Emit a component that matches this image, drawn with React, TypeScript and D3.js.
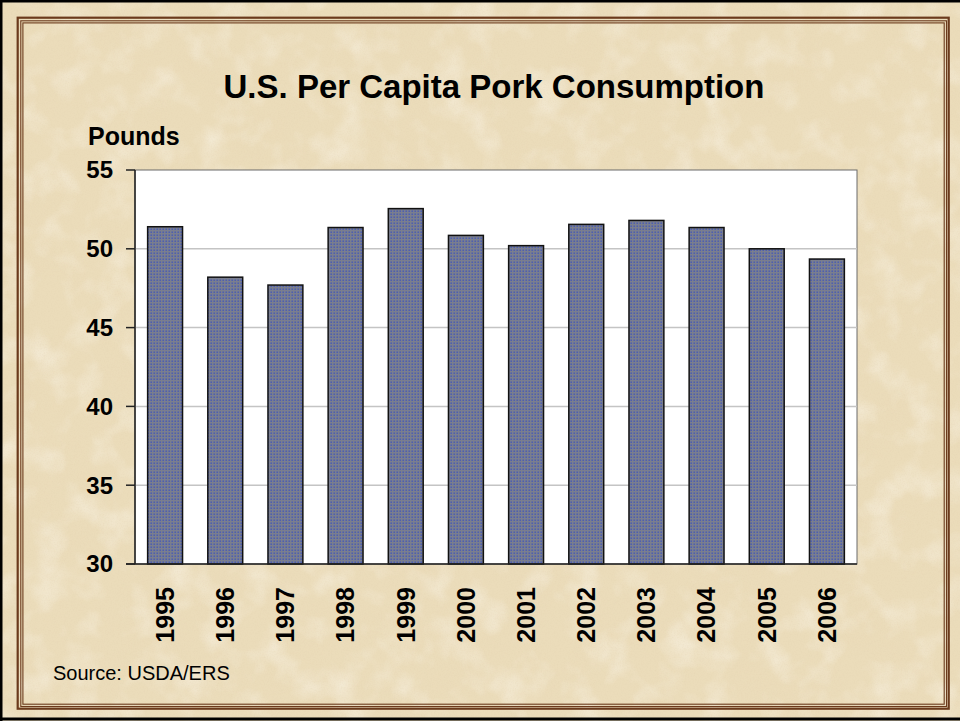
import React from "react";
import * as d3 from "d3";

const years = ["1995","1996","1997","1998","1999","2000","2001","2002","2003","2004","2005","2006"];
const pounds = [51.4, 48.2, 47.7, 51.35, 52.55, 50.85, 50.2, 51.55, 51.8, 51.35, 50.0, 49.35];
const yTicks = [30, 35, 40, 45, 50, 55];
const title = "U.S. Per Capita Pork Consumption";
const yLabel = "Pounds";
const source = "Source: USDA/ERS";

export default function App() {
  const W = 960, H = 721;
  const left = 135, right = 857, top = 170, bottom = 564;
  const x = d3.scaleBand<string>().domain(years).range([left, right]).paddingInner(0.42).paddingOuter(0.21);
  const y = d3.scaleLinear().domain([30, 55]).range([bottom, top]);
  const font = "Arial, 'Liberation Sans', Helvetica, sans-serif";
  const brown = "#6b3a1c";
  return (
    <svg width={W} height={H} style={{ position: "absolute", left: 0, top: 0 }} fontFamily={font}>
      <defs>
        <filter id="parch" x="0" y="0" width="100%" height="100%">
          <feTurbulence type="fractalNoise" baseFrequency="0.018" numOctaves="4" seed="7" result="n" />
          <feColorMatrix in="n" type="matrix"
            values="0 0 0 0 0.82  0 0 0 0 0.70  0 0 0 0 0.48  2.2 0 0 0 -0.95" />
        </filter>
        <filter id="light" x="0" y="0" width="100%" height="100%">
          <feTurbulence type="fractalNoise" baseFrequency="0.03" numOctaves="3" seed="21" result="n" />
          <feColorMatrix in="n" type="matrix"
            values="0 0 0 0 0.98  0 0 0 0 0.95  0 0 0 0 0.88  0 2.2 0 0 -1.0" />
        </filter>
        <filter id="grain" x="0" y="0" width="100%" height="100%">
          <feTurbulence type="fractalNoise" baseFrequency="0.7" numOctaves="2" seed="3" result="g" />
          <feColorMatrix in="g" type="matrix"
            values="0 0 0 0 0.75  0 0 0 0 0.62  0 0 0 0 0.42  1.6 0 0 0 -0.7" />
        </filter>
        <pattern id="dots" width="3" height="3" patternUnits="userSpaceOnUse">
          <rect width="3" height="3" fill="#7a7e8e" />
          <rect x="0.5" y="0.5" width="1.4" height="1.4" fill="#4358b8" />
        </pattern>
      </defs>
      <rect width={W} height={H} fill="#ebdcba" />
      <rect width={W} height={H} filter="url(#parch)" opacity={0.45} />
      <rect width={W} height={H} filter="url(#light)" opacity={0.45} />
      <rect width={W} height={H} filter="url(#grain)" opacity={0.3} />
      {/* black outer edge */}
      <line x1={1} y1={0} x2={1} y2={H} stroke="#000" strokeWidth={3} />
      <line x1={0} y1={1} x2={W} y2={1} stroke="#000" strokeWidth={3} />
      <line x1={0} y1={719} x2={W} y2={719} stroke="#000" strokeWidth={3} />
      {/* brown frame */}
      <rect x={17.7} y={17.7} width={948.7 - 17.7} height={708.7 - 17.7} fill="none" stroke={brown} strokeWidth={2.2} />
      <rect x={20.8} y={20.8} width={946.5 - 20.8} height={706.5 - 20.8} fill="none" stroke={brown} strokeWidth={1.1} />
      <rect x={22.9} y={22.9} width={944.2 - 22.9} height={704.2 - 22.9} fill="none" stroke={brown} strokeWidth={1.1} />

      <text x={(222 + 766) / 2} y={98} textAnchor="middle" fontSize={33} fontWeight="bold" fill="#000">{title}</text>
      <text x={88} y={145} fontSize={25} fontWeight="bold" fill="#000">{yLabel}</text>

      {/* plot area */}
      <rect x={left} y={top} width={right - left} height={bottom - top} fill="#fff" stroke="#6a6a6a" strokeWidth={1} />
      {yTicks.filter(t => t > 30 && t < 55).map(t => (
        <line key={"g" + t} x1={left} x2={right} y1={y(t)} y2={y(t)} stroke="#c4c4c4" strokeWidth={1.5} />
      ))}
      {years.map((yr, i) => (
        <rect key={yr} x={x(yr)} y={y(pounds[i])} width={x.bandwidth()} height={y(30) - y(pounds[i])}
          fill="url(#dots)" stroke="#111" strokeWidth={1.5} />
      ))}
      <line x1={left} x2={left} y1={top} y2={bottom} stroke="#222" strokeWidth={1.5} />
      <line x1={126} x2={right} y1={bottom} y2={bottom} stroke="#222" strokeWidth={1.5} />
      {yTicks.map(t => (
        <g key={"t" + t}>
          <line x1={126} x2={left} y1={y(t)} y2={y(t)} stroke="#222" strokeWidth={1.5} />
          <text x={113} y={y(t)} dy="0.35em" textAnchor="end" fontSize={24} fontWeight="bold" fill="#000">{t}</text>
        </g>
      ))}
      {years.map(yr => {
        const cx = (x(yr) as number) + x.bandwidth() / 2;
        return (
          <text key={"l" + yr} transform={`translate(${cx},587) rotate(-90)`} textAnchor="end" dy="0.35em"
            fontSize={25} fontWeight="bold" fill="#000">{yr}</text>
        );
      })}
      <text x={53} y={680} fontSize={20} fill="#000">{source}</text>
    </svg>
  );
}
